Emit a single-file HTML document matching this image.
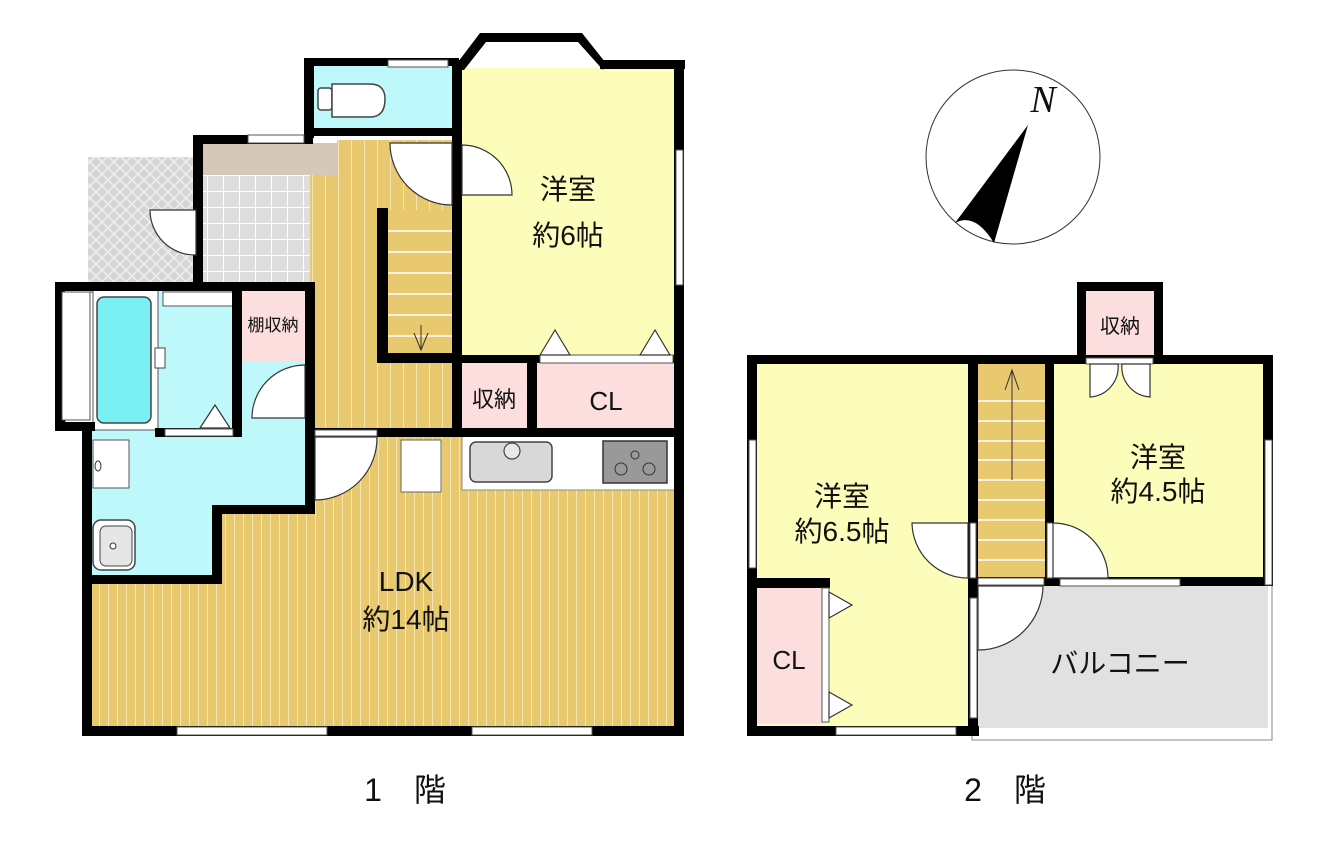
<!DOCTYPE html>
<html><head><meta charset="utf-8"><style>
html,body{margin:0;padding:0;background:#fff;width:1337px;height:843px;overflow:hidden}
svg text{font-family:"Liberation Sans","Noto Sans CJK JP",sans-serif;fill:#111}
</style></head><body>
<svg width="1337" height="843" viewBox="0 0 1337 843" xmlns="http://www.w3.org/2000/svg">
<defs>
<pattern id="wood" width="9" height="10" patternUnits="userSpaceOnUse">
<rect width="9" height="10" fill="#e8c970"/><rect x="0" width="1" height="10" fill="#f6e6b4"/>
</pattern>
<pattern id="wood2" width="13" height="10" patternUnits="userSpaceOnUse">
<rect width="13" height="10" fill="#e8c970"/><rect x="0" width="1" height="10" fill="#f6e6b4"/>
</pattern>
<pattern id="tile" width="16" height="16" patternUnits="userSpaceOnUse">
<rect width="16" height="16" fill="#dedede"/><rect x="15" width="1" height="16" fill="#fff"/><rect y="15" width="16" height="1" fill="#fff"/>
</pattern>
<pattern id="hatch" width="12" height="12" patternUnits="userSpaceOnUse">
<rect width="12" height="12" fill="#d6d6d6"/><path d="M0 0L12 12M12 0L0 12" stroke="#efefef" stroke-width="1.5"/>
</pattern>
</defs>

<!-- ===== 1F ===== -->
<rect x="88" y="157" width="108" height="125" fill="url(#hatch)"/>
<rect x="202" y="143" width="108" height="140" fill="url(#tile)"/>
<rect x="202" y="143" width="135" height="32" fill="#d5c8b8"/>
<rect x="310" y="175" width="150" height="260" fill="url(#wood2)"/>
<rect x="337" y="140" width="123" height="35" fill="url(#wood2)"/>
<rect x="310" y="65" width="148" height="68" fill="#bff8fb"/>
<rect x="458" y="68" width="222" height="292" fill="#fdfdbb"/>
<rect x="460" y="360" width="70" height="70" fill="#fcdede"/>
<rect x="535" y="362" width="142" height="68" fill="#fcdede"/>
<rect x="92" y="288" width="150" height="145" fill="#bff8fb"/>
<rect x="240" y="288" width="66" height="74" fill="#fcdede"/>
<rect x="240" y="362" width="66" height="72" fill="#bff8fb"/>
<polygon points="90,433 310,433 310,508 218,508 218,578 90,578" fill="#bff8fb"/>
<polygon points="310,433 680,433 680,728 88,728 88,578 218,578 218,508 310,508" fill="url(#wood)"/>
<rect x="462" y="435" width="214" height="55" fill="#fff" stroke="#888" stroke-width="1"/>
<rect x="470" y="442" width="82" height="40" rx="6" fill="#d8d8d8" stroke="#444" stroke-width="1.5"/>
<circle cx="512" cy="451" r="8" fill="#e8e8e8" stroke="#444" stroke-width="1.2"/>
<rect x="603" y="441" width="64" height="42" fill="#999" stroke="#333" stroke-width="1.5"/>
<circle cx="621" cy="469" r="6" fill="none" stroke="#333"/><circle cx="649" cy="469" r="6" fill="none" stroke="#333"/><circle cx="635" cy="455" r="4" fill="none" stroke="#333"/>
<rect x="401" y="440" width="40" height="52" fill="#fff" stroke="#666"/>
<rect x="65" y="292" width="28" height="133" fill="#fff" stroke="#555"/>
<rect x="93" y="290" width="65" height="140" fill="#fff" stroke="#555"/>
<rect x="97" y="297" width="54" height="126" rx="7" fill="#7af0f5" stroke="#444" stroke-width="1.5"/>
<rect x="155" y="348" width="10" height="20" fill="#fff" stroke="#444"/>
<rect x="163" y="292" width="72" height="14" fill="#fff" stroke="#555"/>
<rect x="93" y="440" width="36" height="48" fill="#fff" stroke="#555"/>
<ellipse cx="98" cy="466" rx="3" ry="5" fill="#fff" stroke="#333"/>
<rect x="93" y="520" width="42" height="50" rx="8" fill="#fff" stroke="#444" stroke-width="1.5"/>
<rect x="100" y="526" width="32" height="40" rx="6" fill="#e6e6e6" stroke="#444"/>
<circle cx="113" cy="546" r="3" fill="#fff" stroke="#333"/>
<rect x="318" y="88" width="14" height="22" rx="3" fill="#fff" stroke="#444" stroke-width="1.5"/>
<path d="M332 84 L370 84 Q385 84 385 99 Q385 117 370 117 L332 117 Z" fill="#fff" stroke="#444" stroke-width="1.5"/>
<rect x="388" y="210" width="68" height="145" fill="#e8c970"/>
<g stroke="#fff" stroke-width="1.5">
<line x1="388" y1="231" x2="455" y2="231"/><line x1="388" y1="252" x2="455" y2="252"/><line x1="388" y1="273" x2="455" y2="273"/>
<line x1="388" y1="294" x2="455" y2="294"/><line x1="388" y1="315" x2="455" y2="315"/><line x1="388" y1="336" x2="455" y2="336"/>
</g>
<path d="M421 325 L421 350 M414 333 L421 350 L428 333" stroke="#333" stroke-width="1" fill="none"/>
<rect x="377" y="208" width="11" height="155" fill="#000"/>
<rect x="377" y="353" width="83" height="10" fill="#000"/>

<g fill="#000">
<rect x="304" y="58" width="10" height="80"/><rect x="304" y="58" width="155" height="8"/>
<rect x="305" y="128" width="155" height="8"/>
<polygon points="455,66 480,33 582,33 605,62 603,70 578,42 486,42 464,70 455,70"/>
<rect x="600" y="60" width="85" height="9"/>
<rect x="452" y="60" width="10" height="375"/>
<rect x="674" y="60" width="10" height="675"/>
<rect x="193" y="135" width="120" height="9"/>
<rect x="193" y="135" width="10" height="150"/>
<rect x="55" y="282" width="260" height="9"/>
<rect x="55" y="282" width="10" height="148"/>
<rect x="55" y="422" width="40" height="9"/>
<rect x="82" y="422" width="10" height="313"/>
<rect x="82" y="726" width="602" height="10"/>
<rect x="305" y="282" width="10" height="230"/>
<rect x="232" y="282" width="10" height="155"/>
<rect x="155" y="428" width="87" height="9"/>
<rect x="82" y="575" width="140" height="9"/>
<rect x="212" y="505" width="10" height="79"/>
<rect x="212" y="505" width="103" height="9"/>
<rect x="305" y="428" width="378" height="9"/>
<rect x="527" y="357" width="10" height="75"/>
<rect x="455" y="355" width="228" height="8"/>
</g>
<g fill="#fff" stroke="#555" stroke-width="1">
<rect x="388" y="60" width="60" height="7"/><rect x="248" y="135" width="56" height="8"/>
<rect x="676" y="150" width="7" height="135"/>
<rect x="177" y="727" width="150" height="8"/><rect x="472" y="727" width="120" height="8"/>
<rect x="315" y="430" width="62" height="6"/>
<rect x="540" y="355" width="133" height="8"/>
<rect x="165" y="429" width="68" height="7"/>
<rect x="62" y="292" width="28" height="128"/>
</g>
<g fill="#fff" stroke="#333" stroke-width="1.2">
<path d="M462 145 L462 195 L512 195 A50 50 0 0 0 462 145 Z"/>
<path d="M452 143 L390 143 A62 62 0 0 0 452 205 Z"/>
<path d="M196 210 L150 210 A45 45 0 0 0 196 255 Z"/>
<path d="M305 365 L305 418 L252 418 A53 53 0 0 1 305 365 Z"/>
<path d="M315 437 L377 437 A62 62 0 0 1 315 500 Z"/>
<path d="M540 355 L555 330 L570 355 Z"/><path d="M640 355 L655 330 L670 355 Z"/>
<path d="M200 428 L215 405 L230 428 Z"/>
</g>
<text x="568" y="199" font-size="28" text-anchor="middle">洋室</text>
<text x="568" y="245" font-size="28" text-anchor="middle">約6帖</text>
<text x="273" y="331" font-size="17" text-anchor="middle">棚収納</text>
<text x="494" y="407" font-size="22" text-anchor="middle">収納</text>
<text x="606" y="410" font-size="26" text-anchor="middle">CL</text>
<text x="406" y="591" font-size="28" text-anchor="middle">LDK</text>
<text x="406" y="629" font-size="28" text-anchor="middle">約14帖</text>
<text x="405" y="801" font-size="32" text-anchor="middle">1　階</text>

<!-- ===== 2F ===== -->
<rect x="755" y="362" width="218" height="366" fill="#fdfdbb"/>
<rect x="1050" y="362" width="218" height="218" fill="#fdfdbb"/>
<rect x="978" y="585" width="290" height="143" fill="#e1e1e1"/>
<rect x="755" y="588" width="70" height="136" fill="#fcdede"/>
<rect x="1085" y="290" width="70" height="68" fill="#fcdede"/>
<rect x="978" y="362" width="70" height="217" fill="#e8c970"/>
<g stroke="#fff" stroke-width="1.5">
<line x1="978" y1="401" x2="1048" y2="401"/><line x1="978" y1="421" x2="1048" y2="421"/><line x1="978" y1="441" x2="1048" y2="441"/>
<line x1="978" y1="460" x2="1048" y2="460"/><line x1="978" y1="480" x2="1048" y2="480"/><line x1="978" y1="500" x2="1048" y2="500"/>
<line x1="978" y1="520" x2="1048" y2="520"/><line x1="978" y1="540" x2="1048" y2="540"/><line x1="978" y1="560" x2="1048" y2="560"/>
</g>
<path d="M1012 480 L1012 370 M1005 390 L1012 370 L1019 390" stroke="#333" stroke-width="1" fill="none"/>
<path d="M972 728 L972 740 L1272 740 L1272 583" fill="none" stroke="#888" stroke-width="1"/>
<g fill="#000">
<rect x="747" y="355" width="526" height="9"/>
<rect x="747" y="355" width="10" height="381"/>
<rect x="747" y="726" width="232" height="10"/>
<rect x="968" y="355" width="10" height="381"/>
<rect x="1045" y="355" width="9" height="226"/>
<rect x="1263" y="355" width="10" height="230"/>
<rect x="968" y="577" width="305" height="9"/>
<rect x="747" y="578" width="83" height="10"/>
<rect x="1077" y="282" width="86" height="9"/>
<rect x="1077" y="282" width="9" height="78"/><rect x="1154" y="282" width="9" height="78"/>
</g>
<g fill="#fff" stroke="#555" stroke-width="1">
<rect x="749" y="440" width="7" height="128"/><rect x="1265" y="440" width="7" height="145"/>
<rect x="836" y="727" width="120" height="8"/><rect x="1060" y="579" width="120" height="7"/>
<rect x="970" y="598" width="7" height="120"/>
<rect x="978" y="578" width="66" height="7"/>
<rect x="1086" y="358" width="67" height="6"/>
<rect x="822" y="588" width="7" height="134"/>
<rect x="970" y="523" width="6" height="55"/><rect x="1047" y="523" width="6" height="55"/>
</g>
<g fill="#fff" stroke="#333" stroke-width="1.2">
<path d="M968 523 L912 523 A56 56 0 0 0 968 578 Z"/>
<path d="M1053 523 L1053 578 L1108 578 A55 55 0 0 0 1053 523 Z"/>
<path d="M978 586 L1043 586 A65 65 0 0 1 978 650 Z"/>
<path d="M1090 364 L1090 397 A30 30 0 0 0 1118 364 Z"/>
<path d="M1150 364 L1150 397 A30 30 0 0 1 1122 364 Z"/>
<path d="M829 592 L852 605 L829 618 Z"/><path d="M829 692 L852 705 L829 718 Z"/>
</g>
<text x="842" y="506" font-size="28" text-anchor="middle">洋室</text>
<text x="842" y="541" font-size="28" text-anchor="middle">約6.5帖</text>
<text x="1158" y="467" font-size="28" text-anchor="middle">洋室</text>
<text x="1158" y="501" font-size="28" text-anchor="middle">約4.5帖</text>
<text x="1120" y="333" font-size="20" text-anchor="middle">収納</text>
<text x="789" y="669" font-size="26" text-anchor="middle">CL</text>
<text x="1120" y="673" font-size="28" text-anchor="middle">バルコニー</text>
<text x="1005" y="801" font-size="32" text-anchor="middle">2　階</text>

<circle cx="1013" cy="157" r="87" fill="#fff" stroke="#333" stroke-width="1"/>
<path d="M1028 125 L955 223 Q975 212 994 243 Z" fill="#000"/>
<text x="1043" y="112" font-size="38" font-style="italic" text-anchor="middle" style="font-family:'Liberation Serif',serif">N</text>
</svg>
</body></html>
